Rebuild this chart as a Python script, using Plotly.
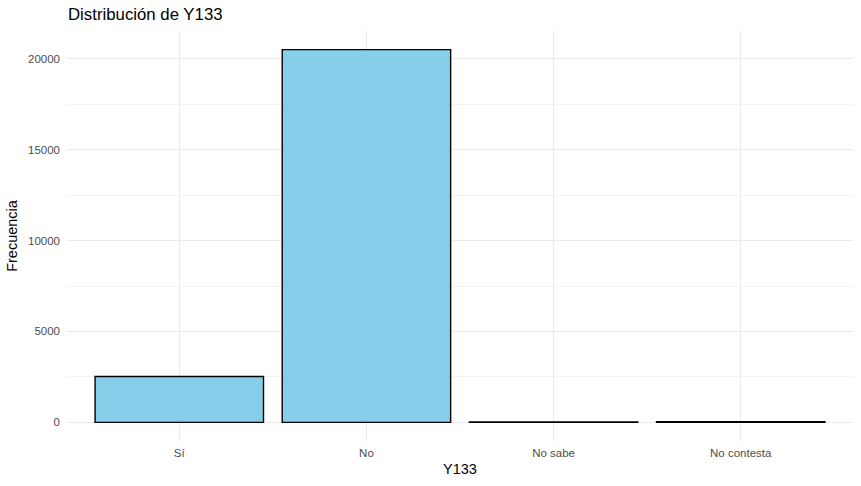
import plotly.graph_objects as go

# // data
categorias = ["Sí", "No", "No sabe", "No contesta"]
frecuencias = [2520, 20500, 18, 30]
y_ticks = [0, 5000, 10000, 15000, 20000]

FONT = "Liberation Sans, Arial, sans-serif"
GRID = "#EBEBEB"

fig = go.Figure(data=[
    go.Bar(
        x=categorias,
        y=frecuencias,
        width=0.9,
        marker=dict(color="#87CEEB", line=dict(color="black", width=1.4)),
        hoverinfo="x+y",
    )
])

fig.update_layout(
    width=861,
    height=486,
    margin=dict(l=67, r=8, t=31, b=45),
    paper_bgcolor="white",
    plot_bgcolor="white",
    showlegend=False,
    font=dict(family=FONT, color="black"),
    title=dict(
        text="Distribución de Y133",
        x=68 / 861, xanchor="left",
        y=1 - 14 / 486, yanchor="middle",
        font=dict(size=16.8, color="black"),
    ),
    xaxis=dict(
        range=[-0.6, 3.6],
        showgrid=True, gridcolor=GRID, gridwidth=1.1,
        zeroline=False, showline=False, ticks="",
        tickfont=dict(size=11.5, color="#4D4D4D"),
        ticklabelstandoff=3,
        title=dict(text="Y133", font=dict(size=14.5), standoff=6),
    ),
    yaxis=dict(
        range=[-1025, 21525],
        tickvals=y_ticks,
        ticktext=[str(v) for v in y_ticks],
        showgrid=True, gridcolor=GRID, gridwidth=1.1,
        minor=dict(dtick=2500, tick0=2500, showgrid=True, gridcolor="#F3F3F3", gridwidth=0.6),
        zeroline=False, showline=False, ticks="",
        tickfont=dict(size=11.5, color="#4D4D4D"),
        ticklabelstandoff=6,
        title=dict(text="Frecuencia", font=dict(size=14.5), standoff=6),
    ),
)

# // drop the page's default body margin so the figure fills the window
fig.write_html(
    "out.html",
    config={"displayModeBar": False},
    post_script="document.body.style.margin='0';document.body.style.overflow='hidden';",
)
